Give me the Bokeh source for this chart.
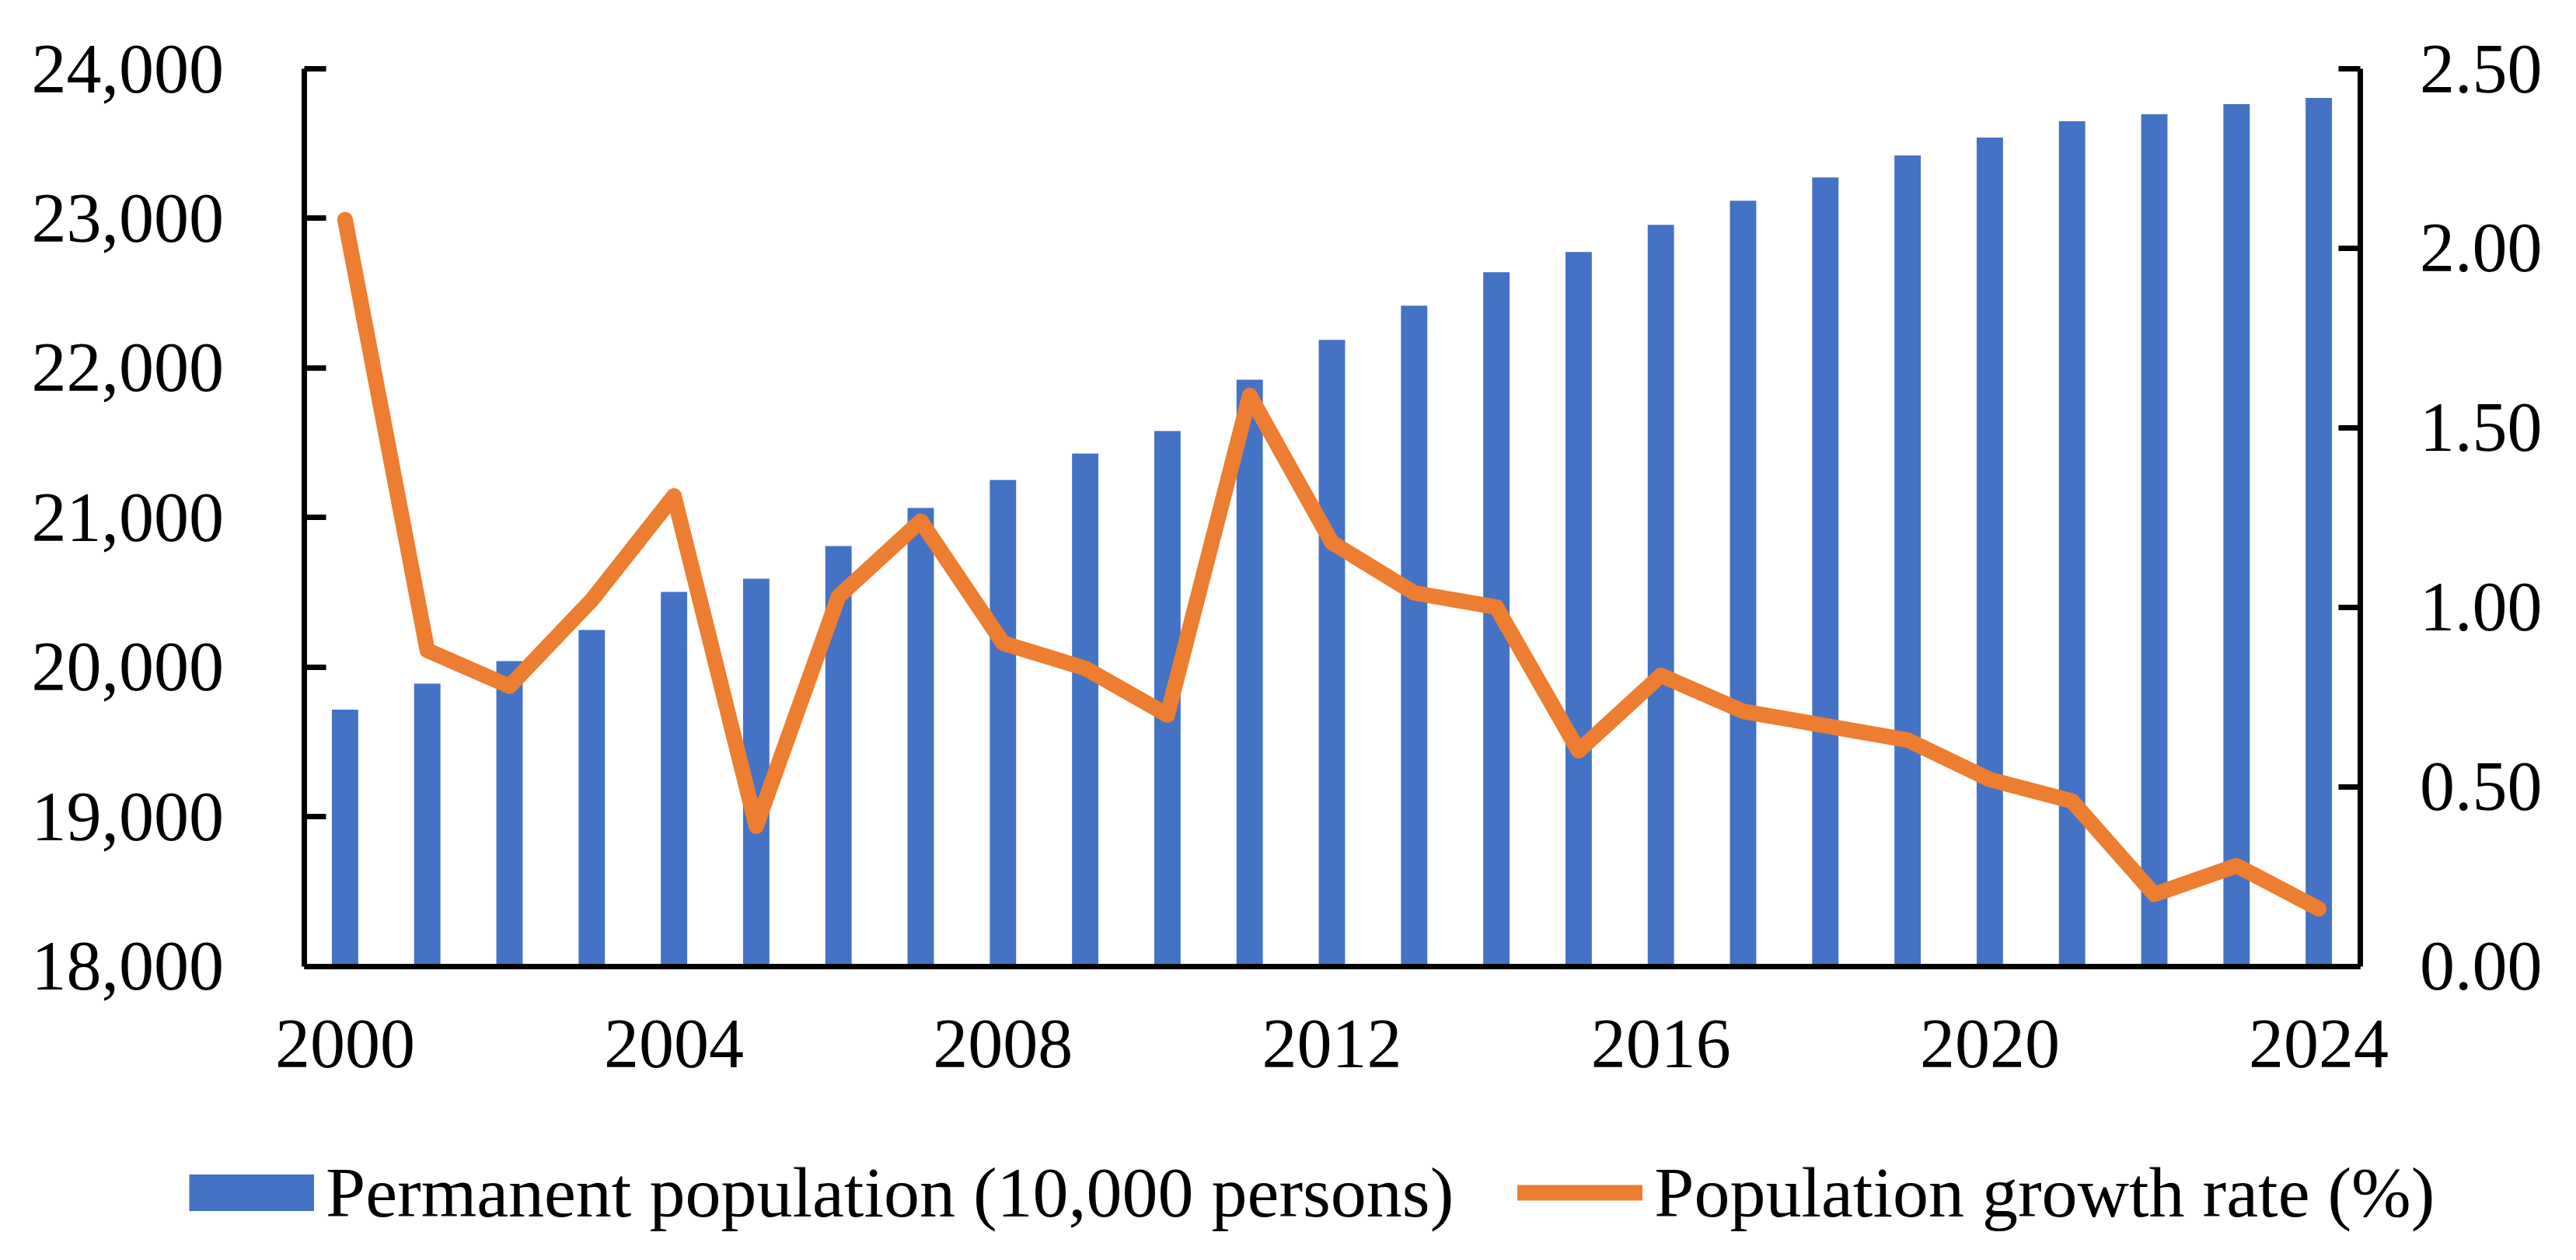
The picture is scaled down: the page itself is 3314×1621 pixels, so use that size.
from bokeh.plotting import figure
from bokeh.models import (ColumnDataSource, Range1d, LinearAxis, FixedTicker,
                          NumeralTickFormatter, Legend, LegendItem)
from bokeh.embed import file_html
from bokeh.resources import INLINE

# ---- data ----
years = list(range(2000, 2025))
population = [19715, 19889, 20040, 20248, 20502, 20591, 20809, 21064, 21251, 21428,
              21578, 21921, 22187, 22416, 22640, 22775, 22957, 23118, 23274, 23420,
              23540, 23649, 23696, 23763, 23805]
growth_rate = [2.08, 0.88, 0.78, 1.02, 1.31, 0.39, 1.03, 1.24, 0.90, 0.83,
               0.70, 1.59, 1.18, 1.04, 1.00, 0.60, 0.81, 0.71, 0.67, 0.63,
               0.52, 0.46, 0.20, 0.28, 0.16]
x_ticks = [2000, 2004, 2008, 2012, 2016, 2020, 2024]
left_ticks = [18000, 19000, 20000, 21000, 22000, 23000, 24000]
right_ticks = [0.0, 0.5, 1.0, 1.5, 2.0, 2.5]
bar_label = "Permanent population (10,000 persons)"
line_label = "Population growth rate (%)"

BLUE = "#4472C4"
ORANGE = "#ED7D31"
FONT = "Liberation Serif"
FS = "90px"
LEG_FS = "92px"

# ---- layout (pixels inside the figure) ----
W, H = 3298, 1605
PL, PR, PT, PB = 390.5, 3035.5, 88.0, 1242.5   # plot-area edges
X0, X1 = years[0] - 0.5, years[-1] + 0.5
Y0, Y1 = left_ticks[0], left_ticks[-1]
R0, R1 = right_ticks[0], right_ticks[-1]
kx = (X1 - X0) / (PR - PL)
ky = (Y1 - Y0) / (PB - PT)
kr = (R1 - R0) / (PB - PT)

src = ColumnDataSource(dict(year=years, pop=population, rate=growth_rate))

p = figure(width=W, height=H, output_backend="svg", toolbar_location=None,
           x_range=Range1d(X0 - PL * kx, X1 + (W - PR) * kx),
           y_range=Range1d(Y0 - (H - PB) * ky, Y1 + PT * ky),
           min_border_left=0, min_border_right=0, min_border_top=0, min_border_bottom=0)
p.extra_y_ranges = {"rate": Range1d(R0 - (H - PB) * kr, R1 + PT * kr)}
p.outline_line_color = None
p.xgrid.visible = False
p.ygrid.visible = False
p.background_fill_color = "white"
p.border_fill_color = "white"

bars = p.vbar(x="year", top="pop", bottom=Y0, width=0.32, source=src,
              fill_color=BLUE, line_color=None)
line = p.line(x="year", y="rate", source=src, y_range_name="rate",
              line_color=ORANGE, line_width=20, line_join="round", line_cap="round")
# square-cornered swatch for the bar series' legend entry (draws nothing on the plot)
bar_swatch = p.line(x=[float("nan")], y=[float("nan")], line_color=BLUE,
                    line_width=47, line_cap="butt")

def style_axis(ax):
    ax.axis_line_color = "black"
    ax.axis_line_width = 7
    ax.major_tick_line_color = "black"
    ax.major_tick_line_width = 7
    ax.minor_tick_line_color = None
    ax.major_label_text_font = FONT
    ax.major_label_text_font_size = FS
    ax.major_label_text_color = "black"

# bottom axis
xa = p.xaxis[0]
style_axis(xa)
xa.fixed_location = Y0
xa.bounds = (X0, X1)
xa.ticker = FixedTicker(ticks=x_ticks)
xa.formatter = NumeralTickFormatter(format="0")
xa.major_tick_in = 0
xa.major_tick_out = 0
xa.major_label_standoff = 70

# left axis
ya = p.yaxis[0]
style_axis(ya)
ya.fixed_location = X0
ya.bounds = (Y0, Y1)
ya.ticker = FixedTicker(ticks=left_ticks)
ya.formatter = NumeralTickFormatter(format="0,0")
ya.major_tick_in = 28
ya.major_tick_out = 0
ya.major_label_standoff = 103

# right axis
ra = LinearAxis(y_range_name="rate", fixed_location=X1, bounds=(R0, R1))
style_axis(ra)
ra.ticker = FixedTicker(ticks=right_ticks)
ra.formatter = NumeralTickFormatter(format="0.00")
ra.major_tick_in = 28
ra.major_tick_out = 0
ra.major_label_standoff = 77
p.add_layout(ra, "right")

legend = Legend(items=[LegendItem(label=bar_label, renderers=[bar_swatch]),
                       LegendItem(label=line_label, renderers=[line])],
                orientation="horizontal", location=(243, 18),
                glyph_width=161, glyph_height=100, label_standoff=15, spacing=82,
                padding=0, margin=0, border_line_color=None, background_fill_alpha=0,
                label_text_font=FONT, label_text_font_size=LEG_FS, label_text_color="black")
p.add_layout(legend)

open("out.html", "w").write(file_html(p, INLINE))
